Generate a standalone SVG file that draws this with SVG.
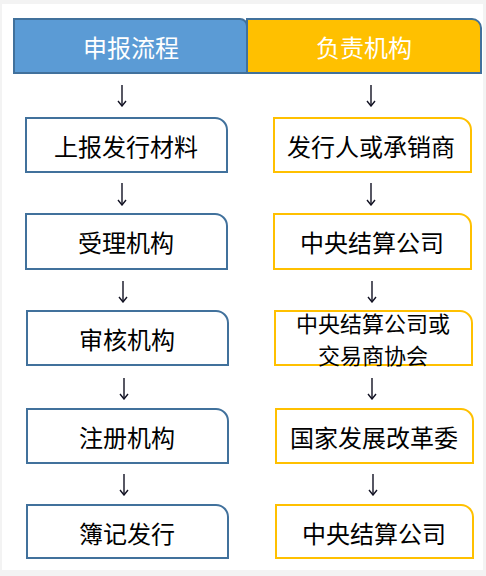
<svg xmlns="http://www.w3.org/2000/svg" width="486" height="576" viewBox="0 0 486 576">
<defs>
<style>
.hdr{font-family:"Noto Sans CJK SC","Microsoft YaHei",sans-serif;font-size:24px;fill:#ffffff;text-anchor:middle;dominant-baseline:central}
.lbl{font-family:"Noto Sans CJK SC","Microsoft YaHei",sans-serif;font-size:24px;fill:#000000;text-anchor:middle;dominant-baseline:central}
.lbl2{font-family:"Noto Sans CJK SC","Microsoft YaHei",sans-serif;font-size:22px;fill:#000000;text-anchor:middle;dominant-baseline:central}
.lb{fill:#ffffff;stroke:#41719c;stroke-width:2}
.rb{fill:#ffffff;stroke:#ffc000;stroke-width:2}
.arr{fill:none;stroke:#111122;stroke-width:1.4}
</style>
<marker id="ah" viewBox="0 0 10 10" refX="9" refY="5" markerWidth="10" markerHeight="10" markerUnits="userSpaceOnUse" orient="auto">
<path d="M4 1 L9 5 L4 9" fill="none" stroke="#111122" stroke-width="1.4"/>
</marker>
</defs>
<rect x="0" y="0" width="486" height="576" fill="#f3f3f3"/>
<rect x="2" y="4" width="481" height="566" fill="#ffffff"/>
<g id="header-left">
<path d="M14 19 H240 A7 7 0 0 1 247 26 V73 H14 Z" fill="#5b9bd5" stroke="#41719c" stroke-width="2"/>
<text class="hdr" x="131" y="46">申报流程</text>
</g>
<g id="header-right">
<path d="M247 19 H472 A9 9 0 0 1 481 28 V73 H247 Z" fill="#ffc000" stroke="#41719c" stroke-width="2"/>
<text class="hdr" x="364" y="46">负责机构</text>
</g>
<g id="l1"><path class="lb" d="M26 118 H215 A12 12 0 0 1 227 130 V172 H26 Z"/><text class="lbl" x="126" y="145">上报发行材料</text></g>
<g id="l2"><path class="lb" d="M26 214 H215 A12 12 0 0 1 227 226 V269 H26 Z"/><text class="lbl" x="126" y="241">受理机构</text></g>
<g id="l3"><path class="lb" d="M27 311 H216 A12 12 0 0 1 228 323 V365 H27 Z"/><text class="lbl" x="127" y="338">审核机构</text></g>
<g id="l4"><path class="lb" d="M27 409 H216 A12 12 0 0 1 228 421 V463 H27 Z"/><text class="lbl" x="127" y="436">注册机构</text></g>
<g id="l5"><path class="lb" d="M27 505 H216 A12 12 0 0 1 228 517 V558 H27 Z"/><text class="lbl" x="127" y="532">簿记发行</text></g>
<g id="r1"><path class="rb" d="M274 118 H459 A12 12 0 0 1 471 130 V172 H274 Z"/><text class="lbl" x="371" y="145">发行人或承销商</text></g>
<g id="r2"><path class="rb" d="M274 214 H459 A12 12 0 0 1 471 226 V269 H274 Z"/><text class="lbl" x="372" y="241">中央结算公司</text></g>
<g id="r3"><path class="rb" d="M275 311 H460 A12 12 0 0 1 472 323 V365 H275 Z"/><text class="lbl2" x="373" y="322">中央结算公司或</text><text class="lbl2" x="373" y="354">交易商协会</text></g>
<g id="r4"><path class="rb" d="M276 409 H461 A12 12 0 0 1 473 421 V463 H276 Z"/><text class="lbl" x="374" y="436">国家发展改革委</text></g>
<g id="r5"><path class="rb" d="M276 505 H461 A12 12 0 0 1 473 517 V558 H276 Z"/><text class="lbl" x="374" y="532">中央结算公司</text></g>
<g id="connectors">
<line class="arr" x1="122" y1="85" x2="122" y2="106" marker-end="url(#ah)"/>
<line class="arr" x1="122" y1="183" x2="122" y2="205" marker-end="url(#ah)"/>
<line class="arr" x1="123" y1="281" x2="123" y2="302" marker-end="url(#ah)"/>
<line class="arr" x1="124" y1="378" x2="124" y2="399" marker-end="url(#ah)"/>
<line class="arr" x1="124" y1="474" x2="124" y2="495" marker-end="url(#ah)"/>
<line class="arr" x1="371" y1="85" x2="371" y2="106" marker-end="url(#ah)"/>
<line class="arr" x1="371" y1="183" x2="371" y2="205" marker-end="url(#ah)"/>
<line class="arr" x1="372" y1="281" x2="372" y2="302" marker-end="url(#ah)"/>
<line class="arr" x1="372" y1="378" x2="372" y2="399" marker-end="url(#ah)"/>
<line class="arr" x1="373" y1="474" x2="373" y2="495" marker-end="url(#ah)"/>
</g>
</svg>
